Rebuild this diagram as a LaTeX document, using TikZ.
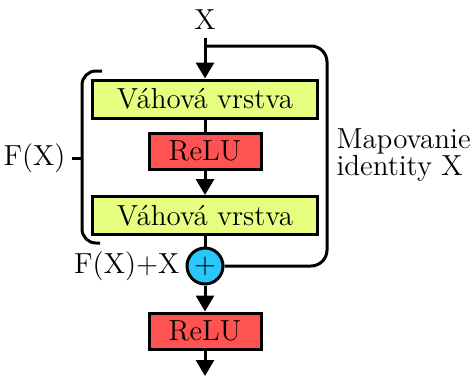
\documentclass[tikz,border=0pt]{standalone}
\usetikzlibrary{arrows.meta}
\definecolor{wgt}{RGB}{230,255,128}
\definecolor{relu}{RGB}{255,82,82}
\definecolor{plus}{RGB}{40,200,250}
\begin{document}
\begin{tikzpicture}[x=0.5pt,y=-0.5pt, font=\fontsize{14.5}{12.5}\selectfont, line width=1.5pt,
 wbox/.style={draw, fill=wgt, minimum width=112.5pt, minimum height=19pt, inner sep=0pt},
 rbox/.style={draw, fill=relu, minimum width=56pt, minimum height=18pt, inner sep=0pt},
 sumnode/.style={circle, draw, fill=plus, minimum size=18pt, inner sep=0pt},
 arr/.style={-{Triangle[length=8pt,width=9pt]}}]
\useasboundingbox (0,0) rectangle (476,376);
\node (x) at (205,20) {X};
\node[wbox] (w1) at (205,99) {Váhová vrstva};
\node[rbox] (r1) at (205,151) {ReLU};
\node[wbox] (w2) at (205,215.5) {Váhová vrstva};
\node[sumnode] (p) at (205,266) {$+$};
\node[rbox] (r2) at (205,331) {ReLU};
\coordinate (end) at (205,376);
\coordinate (br) at (205,46);
\coordinate (rt) at (327,46);
\coordinate (rb) at (327,266);
\draw[arr] (x) -- (w1);
\draw (w1) -- (r1);
\draw[arr] (r1) -- (w2);
\draw (w2) -- (p);
\draw[arr] (p) -- (r2);
\draw[arr] (r2) -- (end);
\draw[rounded corners=8pt] (br) -- (rt) -- (rb) -- (p.east);
% bracket
\coordinate (b1) at (102,71);
\coordinate (b2) at (82,71);
\coordinate (b3) at (82,243);
\coordinate (b4) at (100,243);
\coordinate (tk1) at (82,158);
\coordinate (tk2) at (72,158);
\draw[rounded corners=7pt] (b1) -- (b2) -- (b3) -- (b4);
\draw (tk1) -- (tk2);
\node[anchor=east, inner sep=0pt] (fx) at (67,158) {F(X)};
\node[anchor=west, align=left, inner sep=0pt] (map) at (335,155) {Mapovanie\\identity X};
\node[anchor=east, inner sep=0pt] (fxx) at (181,266) {F(X)+X};
\end{tikzpicture}
\end{document}
